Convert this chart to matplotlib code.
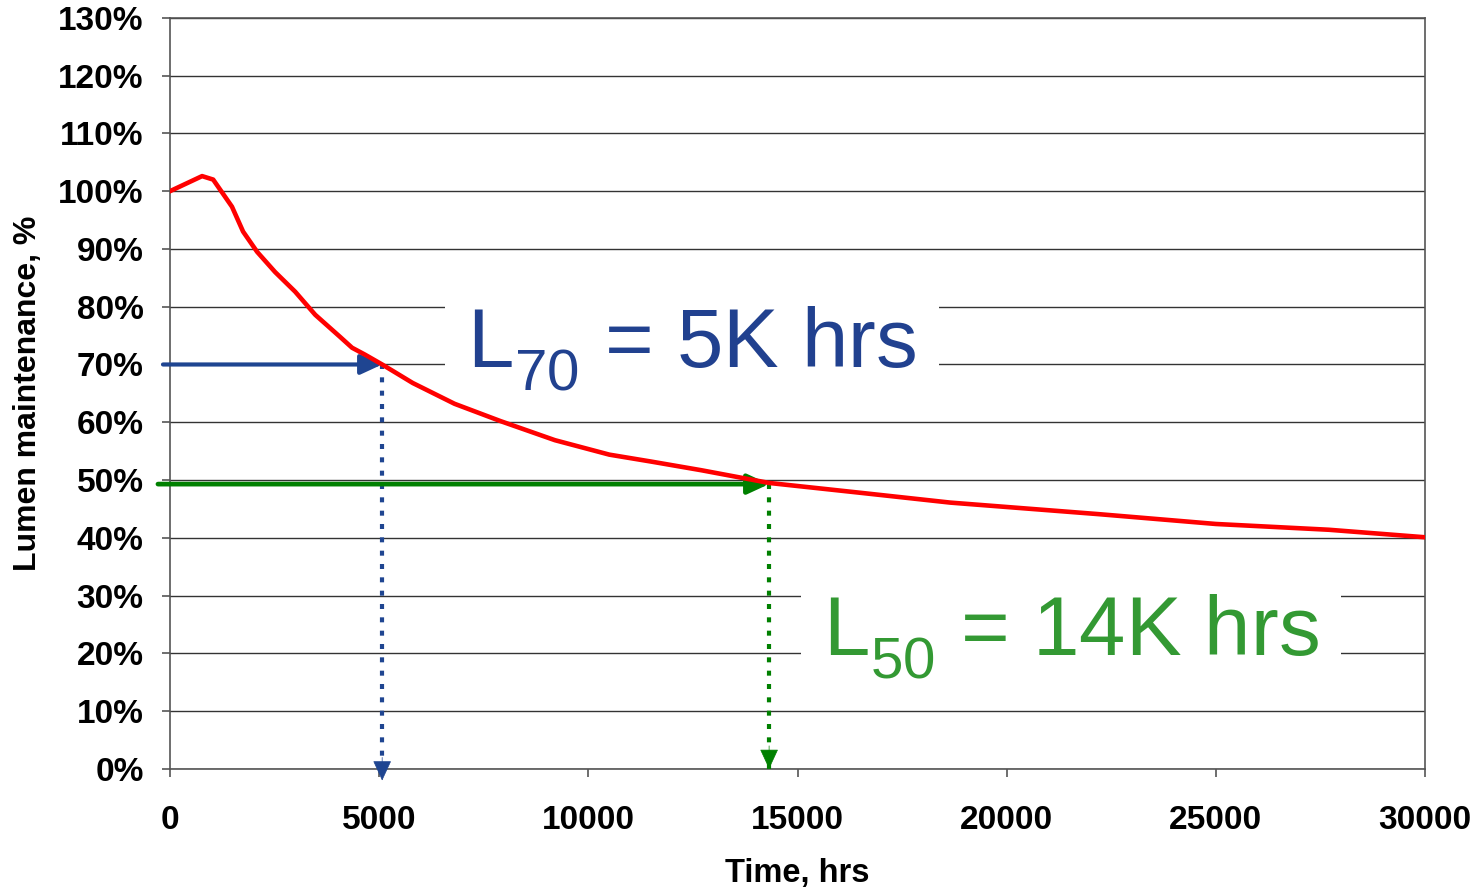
import numpy as np
import matplotlib.pyplot as plt
from matplotlib.ticker import PercentFormatter

plt.rcParams['font.family'] = ['Liberation Sans', 'DejaVu Sans']
plt.rcParams['mathtext.fontset'] = 'custom'
plt.rcParams['mathtext.rm'] = 'Liberation Sans'

# baixar mais o subscrito (como no original)
try:
    import matplotlib._mathtext as mt
    mt.FontConstantsBase.sub1 = 0.5
except Exception as e:
    print(f"Erro ao ajustar subscrito: {e}")

# curva de manutenção de lúmens
horas = [0, 765, 1030, 1480, 1745, 2080, 2510, 2990, 3470, 4060, 4350, 4660,
         5070, 5800, 6800, 7900, 9200, 10500, 11500, 12700, 14320, 16500,
         18650, 22200, 25000, 27700, 30000]
lumens = [1.0, 1.026, 1.02, 0.973, 0.93, 0.895, 0.86, 0.826, 0.786, 0.748,
          0.729, 0.717, 0.70, 0.668, 0.632, 0.602, 0.569, 0.544, 0.532,
          0.517, 0.495, 0.478, 0.461, 0.441, 0.424, 0.414, 0.401]

l70_horas, l70_valor = 5070, 0.70
l50_horas, l50_valor = 14320, 0.493

azul = '#1F4591'
verde = '#008000'
seta = '-|>,head_length=1.3,head_width=0.6'

fig = plt.figure(figsize=(14.79, 8.89), dpi=100)
ax = fig.add_axes([0.115, 0.135, 0.8485, 0.845])

ax.set_xlim(0, 30000)
ax.set_ylim(0, 1.3)
ax.set_xticks(np.arange(0, 30001, 5000))
ax.set_yticks(np.arange(0, 1.31, 0.1))
ax.yaxis.set_major_formatter(PercentFormatter(1.0, decimals=0))
ax.grid(axis='y', color='#333333', linewidth=1.0, zorder=0)
for s in ax.spines.values():
    s.set_color('#555555')
    s.set_linewidth(1.2)
ax.tick_params(axis='y', length=6, width=1.2, color='#555555', pad=13)
ax.tick_params(axis='x', length=6, width=1.2, color='#555555', pad=20)
for lbl in ax.get_xticklabels() + ax.get_yticklabels():
    lbl.set_fontweight('bold')
    lbl.set_fontsize(24)

ax.set_xlabel('Time, hrs', fontsize=23.5, fontweight='bold', labelpad=16)
ax.set_ylabel('Lumen maintenance, %', fontsize=23, fontweight='bold', labelpad=11)

# curva principal
ax.plot(horas, lumens, color='red', linewidth=3.3, zorder=5)

# setas L70
ax.annotate('', xy=(l70_horas, l70_valor), xytext=(-170, l70_valor),
            arrowprops=dict(arrowstyle=seta, color=azul, lw=3.0,
                            shrinkA=0, shrinkB=0),
            annotation_clip=False, zorder=4)
ax.plot([l70_horas, l70_horas], [l70_valor, -0.005], color=azul, lw=3.0,
        linestyle=(0, (1.2, 2)), clip_on=False, zorder=4)
ax.annotate('', xy=(l70_horas, -0.02), xytext=(l70_horas, 0.02),
            arrowprops=dict(arrowstyle=seta, color=azul, lw=0.5,
                            shrinkA=0, shrinkB=0),
            annotation_clip=False, zorder=4)

# setas L50
ax.annotate('', xy=(l50_horas, l50_valor), xytext=(-290, l50_valor),
            arrowprops=dict(arrowstyle=seta, color=verde, lw=3.4,
                            shrinkA=0, shrinkB=0),
            annotation_clip=False, zorder=4)
ax.plot([l50_horas, l50_horas], [l50_valor, 0.0], color=verde, lw=3.0,
        linestyle=(0, (1.2, 2)), clip_on=False, zorder=4)
ax.annotate('', xy=(l50_horas, 0.0), xytext=(l50_horas, 0.04),
            arrowprops=dict(arrowstyle=seta, color=verde, lw=0.5,
                            shrinkA=0, shrinkB=0),
            annotation_clip=False, zorder=4)

# rótulos
ax.text(7100, 0.694, r'L$_{\mathrm{70}}$ = 5K hrs', fontsize=60, color='#21418F',
        ha='left', va='baseline', zorder=3,
        bbox=dict(facecolor='white', edgecolor='none', pad=16))
ax.text(15610, 0.197, r'L$_{\mathrm{50}}$ = 14K hrs', fontsize=60, color='#339933',
        ha='left', va='baseline', zorder=3,
        bbox=dict(facecolor='white', edgecolor='none', pad=16))

fig.savefig('out.png', dpi=100)
